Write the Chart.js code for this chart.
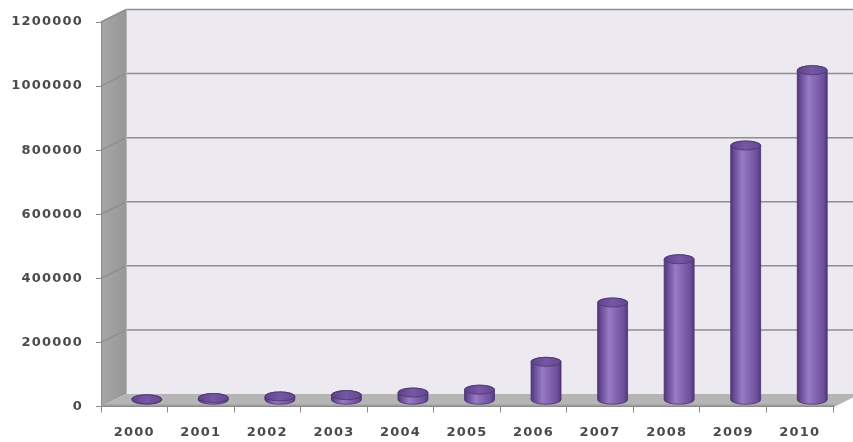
<!DOCTYPE html>
<html>
<head>
<meta charset="utf-8">
<script src="https://cdn.jsdelivr.net/npm/chart.js@4.4.1/dist/chart.umd.min.js"></script>
<style>
  html, body { margin: 0; padding: 0; background: #fff; }
  #wrap { width: 853px; height: 442px; }
</style>
</head>
<body>
<div id="wrap"><canvas id="growthChart"></canvas></div>
<script>
// yearly totals
const years = ['2000', '2001', '2002', '2003', '2004', '2005', '2006', '2007', '2008', '2009', '2010'];
const totals = [3000, 7000, 12000, 16000, 24000, 33000, 120000, 305000, 440000, 795000, 1030000];
const yMax = 1200000;
const yStep = 200000;

// depth of the fake 3D box
const DX = 25;
const DY = 12.5;

const box3d = {
  id: 'box3d',
  beforeDraw(chart) {
    const { ctx, chartArea: a, scales: { y } } = chart;
    const top = y.getPixelForValue(yMax);
    const bottom = y.getPixelForValue(0);
    const left = a.left;
    ctx.save();

    // back wall
    ctx.fillStyle = '#ece9f1';
    ctx.fillRect(left + DX, top - DY, chart.width - left - DX, bottom - top);

    // left side wall
    const side = ctx.createLinearGradient(left, 0, left + DX, 0);
    side.addColorStop(0, '#a6a6a6');
    side.addColorStop(1, '#979797');
    ctx.fillStyle = side;
    ctx.beginPath();
    ctx.moveTo(left, top);
    ctx.lineTo(left + DX, top - DY);
    ctx.lineTo(left + DX, bottom - DY);
    ctx.lineTo(left, bottom);
    ctx.closePath();
    ctx.fill();

    // gridlines on both walls
    ctx.strokeStyle = '#8f8f8f';
    ctx.lineWidth = 1.5;
    for (let v = yStep; v <= yMax; v += yStep) {
      const py = y.getPixelForValue(v);
      ctx.beginPath();
      ctx.moveTo(left, py);
      ctx.lineTo(left + DX, py - DY);
      ctx.lineTo(chart.width, py - DY);
      ctx.stroke();
    }
    ctx.strokeStyle = '#b9b9b9';
    ctx.lineWidth = 1;
    ctx.beginPath();
    ctx.moveTo(left + DX + 0.5, top - DY);
    ctx.lineTo(left + DX + 0.5, bottom - DY);
    ctx.stroke();

    // floor
    const right = a.right + 2;
    ctx.fillStyle = '#b5b5b5';
    ctx.beginPath();
    ctx.moveTo(left, bottom);
    ctx.lineTo(right, bottom);
    ctx.lineTo(right + DX, bottom - DY);
    ctx.lineTo(left + DX, bottom - DY);
    ctx.closePath();
    ctx.fill();
    ctx.fillStyle = '#9d9d9d';
    ctx.fillRect(left, bottom - 2, right - left, 2);
    ctx.restore();

    // wider tracking for the axis labels
    chart.ctx.letterSpacing = '1.2px';
  },
  afterDatasetsDraw(chart) {
    const { ctx } = chart;
    const meta = chart.getDatasetMeta(0);
    ctx.save();
    ctx.letterSpacing = '0px';
    meta.data.forEach(bar => {
      const cx = bar.x + DX / 2;
      const rx = bar.width / 2;
      const ry = 4.5;
      const yTop = bar.y - DY / 2;
      const yBase = bar.base - DY / 2;

      const body = ctx.createLinearGradient(cx - rx, 0, cx + rx, 0);
      body.addColorStop(0, '#4f3676');
      body.addColorStop(0.12, '#6a4d98');
      body.addColorStop(0.38, '#977bc4');
      body.addColorStop(0.6, '#8466b3');
      body.addColorStop(0.88, '#6c4f9b');
      body.addColorStop(1, '#4f3676');

      ctx.beginPath();
      ctx.moveTo(cx - rx, yTop);
      ctx.lineTo(cx - rx, yBase);
      ctx.ellipse(cx, yBase, rx, ry, 0, Math.PI, 0, true);
      ctx.lineTo(cx + rx, yTop);
      ctx.ellipse(cx, yTop, rx, ry, 0, 0, Math.PI, true);
      ctx.closePath();
      ctx.fillStyle = body;
      ctx.fill();
      ctx.strokeStyle = 'rgba(75,51,112,0.8)';
      ctx.lineWidth = 1;
      ctx.stroke();

      const cap = ctx.createLinearGradient(cx - rx, 0, cx + rx, 0);
      cap.addColorStop(0, '#5e4389');
      cap.addColorStop(0.5, '#7658a4');
      cap.addColorStop(1, '#634790');
      ctx.beginPath();
      ctx.ellipse(cx, yTop, rx, ry, 0, 0, Math.PI * 2);
      ctx.fillStyle = cap;
      ctx.fill();
      ctx.strokeStyle = 'rgba(75,51,112,0.8)';
      ctx.stroke();
    });
    ctx.restore();
  },
  afterDraw(chart) {
    chart.ctx.letterSpacing = '0px';
  }
};

const tickFont = { family: 'DejaVu Sans', size: 13, weight: 'bold' };

new Chart(document.getElementById('growthChart'), {
  type: 'bar',
  data: {
    labels: years,
    datasets: [{
      data: totals,
      backgroundColor: 'rgba(0,0,0,0)',
      borderWidth: 0,
      barPercentage: 0.45,
      categoryPercentage: 1
    }]
  },
  options: {
    responsive: true,
    maintainAspectRatio: false,
    animation: false,
    layout: { padding: { left: 0, right: 20, top: 22, bottom: 0 } },
    plugins: {
      legend: { display: false },
      tooltip: { enabled: false }
    },
    scales: {
      x: {
        grid: { display: true, drawOnChartArea: false, tickLength: 6, color: '#8a8a8a' },
        border: { display: true, color: '#8a8a8a' },
        ticks: { font: tickFont, color: '#4a4a4a', padding: 12, maxRotation: 0 },
        afterFit(scale) { scale.height = 35.5; }
      },
      y: {
        min: 0,
        max: yMax,
        grid: { display: true, drawOnChartArea: false, tickLength: 5, color: '#8a8a8a' },
        border: { display: true, color: '#8a8a8a' },
        ticks: {
          stepSize: yStep,
          font: tickFont,
          color: '#4a4a4a',
          padding: 13,
          callback: value => String(value)
        },
        afterFit(scale) { scale.width = 101; }
      }
    }
  },
  plugins: [box3d]
});
</script>
</body>
</html>
